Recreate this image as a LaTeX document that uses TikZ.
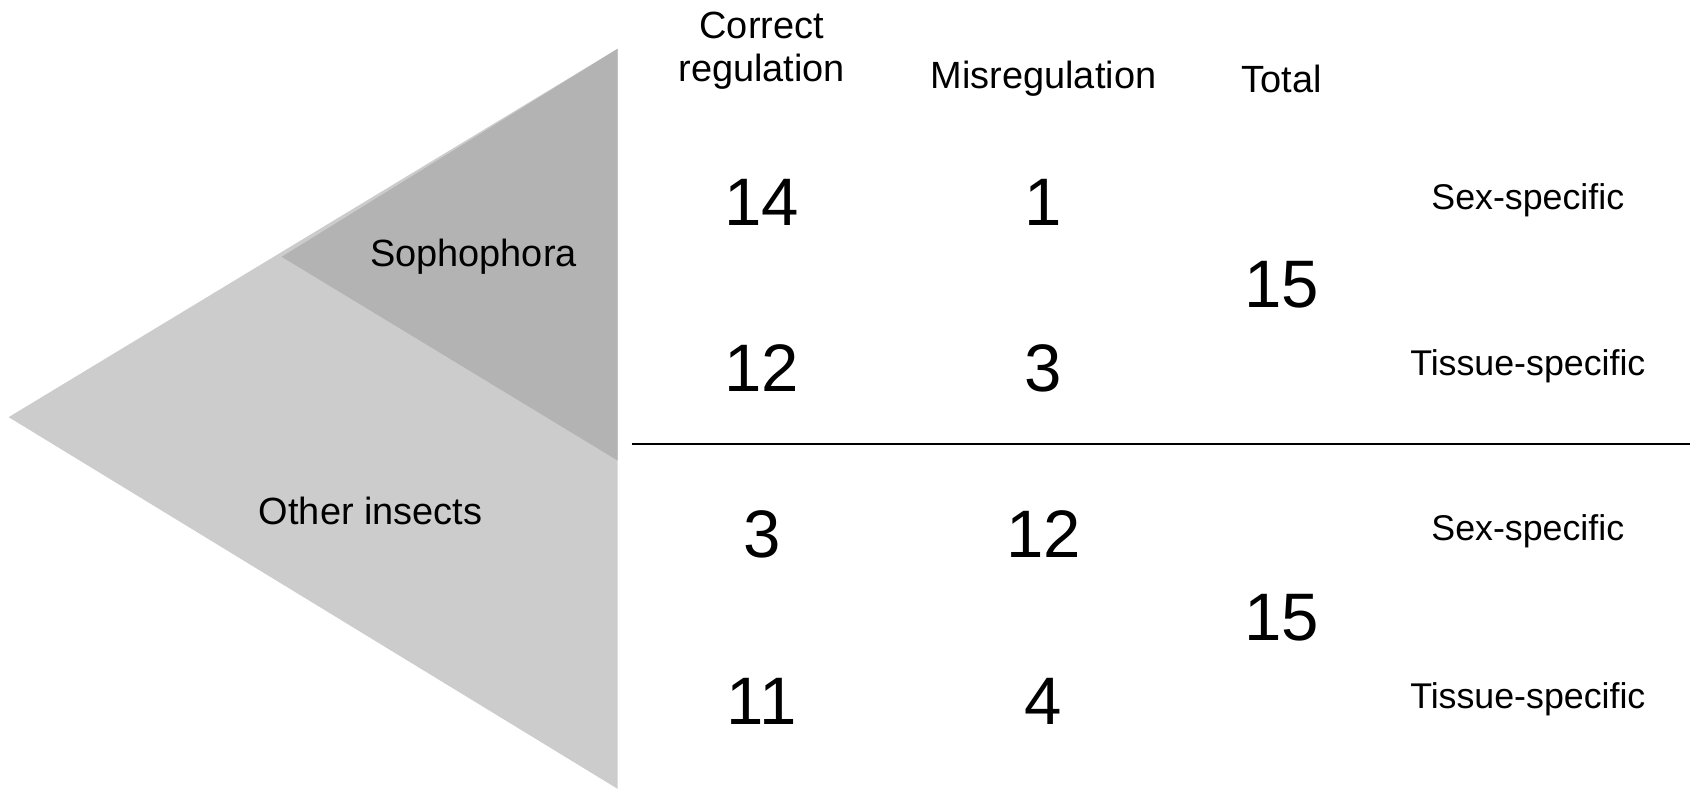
\documentclass[tikz,border=0pt]{standalone}
\usepackage{fontspec}
\setmainfont{Liberation Sans}
\begin{document}
\begin{tikzpicture}[x=0.5pt,y=-0.5pt,
  hdr/.style={font=\fontsize{17.5}{20}\selectfont,align=center},
  num/.style={font=\fontsize{31}{34}\selectfont},
  lab/.style={font=\fontsize{16.5}{19}\selectfont}]
\useasboundingbox (0,0) rectangle (1568,738);
\fill[gray!40!white,fill={rgb,255:red,204;green,204;blue,204}] (8,385) -- (570,45) -- (570,728) -- cycle;
\fill[fill={rgb,255:red,179;green,179;blue,179}] (260,237) -- (570,45) -- (570,425) -- cycle;
\coordinate (l1) at (583,410); \coordinate (l2) at (1560,410);
\draw[line width=0.8pt] (l1) -- (l2);
\node[hdr] (h1) at (703,47) {Correct\\regulation};
\node[hdr] (h2) at (963,73) {Misregulation};
\node[hdr] (h3) at (1183,73) {Total};
\node[hdr] (g1) at (437,237) {Sophophora};
\node[hdr] (g2) at (342,472) {Other insects};
\node[num] (a1) at (703,187) {14};
\node[num] (a2) at (963,187) {1};
\node[num] (a3) at (1183,263) {15};
\node[num] (a4) at (703,340) {12};
\node[num] (a5) at (963,340) {3};
\node[num] (b1) at (703,493) {3};
\node[num] (b2) at (963,493) {12};
\node[num] (b3) at (1183,570) {15};
\node[num] (b4) at (703,647) {11};
\node[num] (b5) at (963,647) {4};
\node[lab] (s1) at (1410,185) {Sex-specific};
\node[lab] (t1) at (1410,338) {Tissue-specific};
\node[lab] (s2) at (1410,490) {Sex-specific};
\node[lab] (t2) at (1410,645) {Tissue-specific};
\end{tikzpicture}
\end{document}
